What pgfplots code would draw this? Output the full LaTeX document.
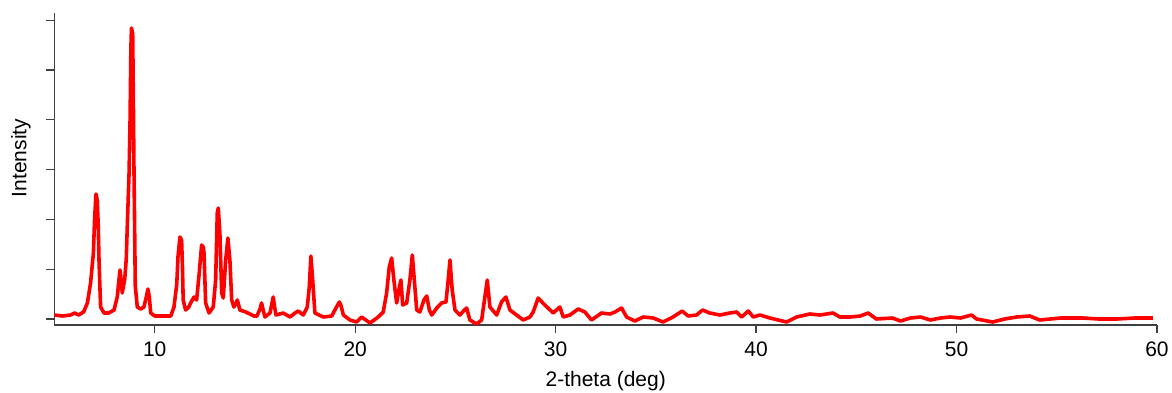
\documentclass[border=0pt]{standalone}
\usepackage{fontspec}
\setmainfont{Liberation Sans}
\usepackage{pgfplots}
\pgfplotsset{compat=1.18}
\pgfplotstableread{
x y
5.0 4
5.4 3
5.8 4
6.0 6
6.2 4
6.45 7
6.64 16
6.8 36
6.94 66
7.0 100
7.07 125
7.13 119
7.18 95
7.22 59
7.3 12
7.47 6
7.7 6
7.97 9
8.13 22
8.22 40
8.27 49
8.32 40
8.38 26
8.45 34
8.5 39
8.58 60
8.63 92
8.72 146
8.77 199
8.81 270
8.84 291
8.9 285
8.93 230
8.96 159
9.03 33
9.13 12
9.3 10
9.46 12
9.58 22
9.66 30
9.73 22
9.8 6
10.0 3
10.4 3
10.8 3
10.96 12
11.1 35
11.16 62
11.26 82
11.34 79
11.38 55
11.42 19
11.54 9
11.7 12
11.79 16
11.96 22
12.09 19
12.22 46
12.34 74
12.42 72
12.46 66
12.54 16
12.71 6
12.92 12
13.04 39
13.12 106
13.17 111
13.25 86
13.34 26
13.42 21
13.54 59
13.65 81
13.75 59
13.84 19
13.95 12
14.05 15
14.12 19
14.25 9
14.54 7
14.95 3
15.1 3
15.25 10
15.33 16
15.42 8
15.5 2
15.75 6
15.85 16
15.91 22
15.98 12
16.05 4
16.41 6
16.75 2
17.0 6
17.16 8
17.41 4
17.61 12
17.71 32
17.79 63
17.88 39
17.99 6
18.41 2
18.83 3
19.04 11
19.21 17
19.3 13
19.41 4
19.74 -1
20.07 -3
20.32 2
20.74 -4
21.15 2
21.4 7
21.57 26
21.7 52
21.82 61
21.93 39
22.07 16
22.18 29
22.28 39
22.37 14
22.57 16
22.73 39
22.85 64
22.95 39
23.07 9
23.23 7
23.43 19
23.57 23
23.7 9
23.82 4
24.07 11
24.31 16
24.53 17
24.64 39
24.73 59
24.84 29
24.98 9
25.22 4
25.45 9
25.56 11
25.72 -1
26.06 -5
26.31 -1
26.47 22
26.59 39
26.72 12
27.06 4
27.3 17
27.52 22
27.72 9
28.05 4
28.38 -1
28.72 2
28.88 7
29.13 21
29.46 14
29.88 6
30.21 12
30.38 2
30.71 4
31.13 10
31.46 7
31.79 -1
32.29 6
32.71 5
32.96 7
33.29 11
33.54 2
33.95 -2
34.37 2
34.87 1
35.36 -3
35.86 2
36.31 8
36.61 3
37.03 4
37.33 9
37.69 6
38.19 4
38.69 6
39.03 7
39.28 2
39.61 8
39.86 2
40.19 4
40.69 1
41.1 -1
41.52 -3
42.02 2
42.68 5
43.18 4
43.84 6
44.18 2
44.7 2
45.2 3
45.59 6
46.0 0
46.8 1
47.2 -2
47.7 1
48.2 2
48.7 -1
49.2 1
49.66 2
50.2 1
50.75 4
51.0 0
51.8 -3
52.4 0
53.0 2
53.65 3
54.15 -1
55.2 1
56.3 1
57.1 0
57.98 0
58.9 1
59.8 1
}\xrd
\begin{document}
\begin{tikzpicture}
\useasboundingbox (0,0) rectangle (586pt,196pt);
\begin{axis}[
  at={(27.25pt,33.5pt)}, anchor=south west,
  scale only axis, width=551.25pt, height=156pt,
  xmin=5, xmax=60, ymin=-6, ymax=306,
  axis x line*=bottom, axis y line*=left,
  axis line style={-, black!75, line width=0.6pt},
  tick align=outside, major tick length=4pt,
  tick style={black!75, line width=0.6pt},
  xtick={10,20,...,60},
  ytick={0,49.8,99.6,149.4,199.2,249,298.8},
  yticklabels=\empty,
  /pgf/number format/assume math mode=true,
  font=\fontsize{10.5}{12}\selectfont,
  xticklabel style={font=\fontsize{10.5}{12}\selectfont, yshift=-1pt},
  xlabel={2-theta (deg)},
  ylabel={Intensity},
  xlabel style={at={(axis description cs:0.5,-0.1955)}, anchor=base},
  ylabel style={at={(axis description cs:-0.0254,0.535)}, anchor=base},
]
\addplot[color=red, line width=1.8pt, line join=round] table[x=x,y=y] {\xrd};
\end{axis}
\end{tikzpicture}
\end{document}
